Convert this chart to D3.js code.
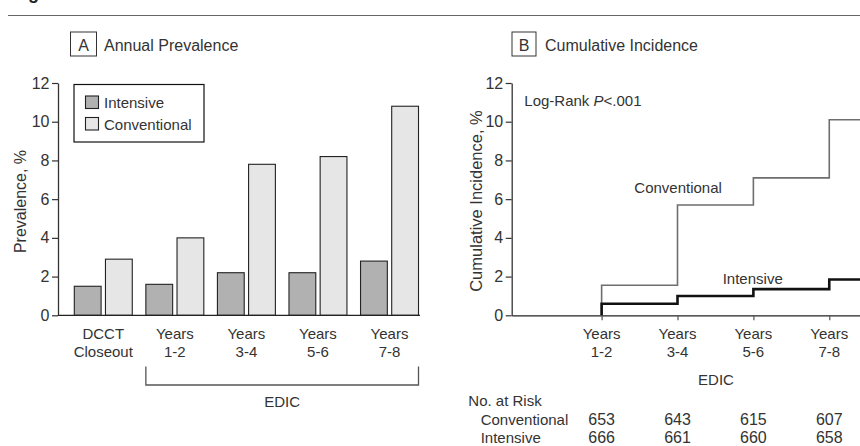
<!DOCTYPE html>
<html>
<head>
<meta charset="utf-8">
<script src="https://cdn.jsdelivr.net/npm/d3@7"></script>
<style>
  html, body { margin: 0; padding: 0; background: #fff; }
  svg { display: block; }
  text { font-family: "Liberation Sans", Arial, sans-serif; fill: #333; }
</style>
</head>
<body>
<svg id="chart" width="860" height="446"></svg>
<script>
// ---- Data ----
const categoriesA = ["DCCT|Closeout", "Years|1-2", "Years|3-4", "Years|5-6", "Years|7-8"];
const seriesNames = ["Intensive", "Conventional"];
const intensivePrev = [1.5, 1.6, 2.2, 2.2, 2.8];
const conventionalPrev = [2.9, 4.0, 7.8, 8.2, 10.8];
const yTicks = [0, 2, 4, 6, 8, 10, 12];

const timesB = [2, 4, 6, 8];
const timeLabelsB = ["Years|1-2", "Years|3-4", "Years|5-6", "Years|7-8"];
const conventionalCum = [1.55, 5.7, 7.1, 10.1];
const intensiveCum = [0.6, 1.0, 1.35, 1.85];
const riskConventional = [653, 643, 615, 607];
const riskIntensive = [666, 661, 660, 658];

const fills = { Intensive: "#b1b1b1", Conventional: "#e6e6e6" };

const svg = d3.select("#chart");

// Figure title (cut off at top, as in the source) and rule
svg.append("text").attr("x", 12).attr("y", -1)
  .style("font-weight", "bold").style("font-size", "18px").style("fill", "#222")
  .text("Figure");
svg.append("line").attr("x1", 8).attr("x2", 860).attr("y1", 15.5).attr("y2", 15.5)
  .attr("stroke", "#666").attr("stroke-width", 1);

// ---- Panel A ----
const yA = d3.scaleLinear().domain([0, 12]).range([315.3, 83]);
const x0 = d3.scaleBand().domain(categoriesA).range([67.5, 425.3])
  .paddingInner(0.19).paddingOuter(0.095);
const x1 = d3.scaleBand().domain(seriesNames).range([0, x0.bandwidth()]).paddingInner(0.14);

const gA = svg.append("g");
gA.append("rect").attr("x", 70.5).attr("y", 32).attr("width", 26).attr("height", 24)
  .attr("fill", "none").attr("stroke", "#333").attr("stroke-width", 1);
gA.append("text").attr("x", 83.5).attr("y", 50.5).attr("text-anchor", "middle")
  .style("font-size", "16px").text("A");
gA.append("text").attr("x", 104).attr("y", 50.5).style("font-size", "16px").text("Annual Prevalence");

const axA = gA.append("g").attr("transform", "translate(58,0)")
  .call(d3.axisLeft(yA).tickValues(yTicks).tickSize(6).tickPadding(2.5).tickSizeOuter(0));
axA.select(".domain").attr("stroke", "#333").attr("stroke-width", 1.3);
axA.selectAll(".tick line").attr("stroke", "#333").attr("stroke-width", 1.2);
axA.selectAll(".tick text").style("font-size", "16px").style("font-family", "Liberation Sans, Arial, sans-serif").attr("fill", "#333");

gA.append("text").attr("transform", "translate(26,201.5) rotate(-90)")
  .attr("text-anchor", "middle").style("font-size", "16px").text("Prevalence, %");

const rows = categoriesA.map((c, i) => ({ cat: c, vals: [
  { key: "Intensive", v: intensivePrev[i] },
  { key: "Conventional", v: conventionalPrev[i] }
]}));
gA.selectAll("g.grp").data(rows).join("g").attr("class", "grp")
  .attr("transform", d => `translate(${x0(d.cat)},0)`)
  .selectAll("rect").data(d => d.vals).join("rect")
  .attr("x", d => x1(d.key)).attr("width", x1.bandwidth())
  .attr("y", d => yA(d.v)).attr("height", d => yA(0) - yA(d.v))
  .attr("fill", d => fills[d.key]).attr("stroke", "#222").attr("stroke-width", 1.1);

gA.append("line").attr("x1", 58).attr("x2", 420).attr("y1", yA(0)).attr("y2", yA(0))
  .attr("stroke", "#222").attr("stroke-width", 1.3);

categoriesA.forEach(c => {
  const cx = x0(c) + x0.bandwidth() / 2;
  c.split("|").forEach((p, j) => {
    gA.append("text").attr("x", cx).attr("y", 338.5 + j * 18.3).attr("text-anchor", "middle")
      .style("font-size", "15px").text(p);
  });
});

const bl = x0(categoriesA[1]) + x1("Intensive");
const br = x0(categoriesA[4]) + x1("Conventional") + x1.bandwidth();
gA.append("path")
  .attr("d", `M${bl},366.5 V385 H${br} V366.5`)
  .attr("fill", "none").attr("stroke", "#555").attr("stroke-width", 1.3);
gA.append("text").attr("x", (bl + br) / 2).attr("y", 406.5).attr("text-anchor", "middle")
  .style("font-size", "15px").text("EDIC");

const lg = gA.append("g");
lg.append("rect").attr("x", 74).attr("y", 84.5).attr("width", 130).attr("height", 57.5)
  .attr("fill", "#fff").attr("stroke", "#111").attr("stroke-width", 1.2);
seriesNames.forEach((s, i) => {
  const yy = 96 + i * 21.5;
  lg.append("rect").attr("x", 85.5).attr("y", yy).attr("width", 13).attr("height", 12.5)
    .attr("fill", fills[s]).attr("stroke", "#222").attr("stroke-width", 1.1);
  lg.append("text").attr("x", 104).attr("y", yy + 12).style("font-size", "15px").text(s);
});

// ---- Panel B ----
const yB = d3.scaleLinear().domain([0, 12]).range([315.3, 83]);
const xB = d3.scaleLinear().domain([-0.37, 8.81]).range([511.7, 860]);

const gB = svg.append("g");
gB.append("rect").attr("x", 512).attr("y", 32).attr("width", 24).attr("height", 24)
  .attr("fill", "none").attr("stroke", "#333").attr("stroke-width", 1);
gB.append("text").attr("x", 524).attr("y", 50.5).attr("text-anchor", "middle")
  .style("font-size", "16px").text("B");
gB.append("text").attr("x", 545).attr("y", 50.5).style("font-size", "16px").text("Cumulative Incidence");

const axBy = gB.append("g").attr("transform", `translate(${xB(-0.37)},0)`)
  .call(d3.axisLeft(yB).tickValues(yTicks).tickSize(6).tickPadding(2.5).tickSizeOuter(0));
axBy.select(".domain").attr("stroke", "#333").attr("stroke-width", 1.3);
axBy.selectAll(".tick line").attr("stroke", "#333").attr("stroke-width", 1.2);
axBy.selectAll(".tick text").style("font-size", "16px").style("font-family", "Liberation Sans, Arial, sans-serif").attr("fill", "#333");

const axBx = gB.append("g").attr("transform", `translate(0,${yB(0)})`)
  .call(d3.axisBottom(xB).tickValues(timesB).tickSize(5).tickSizeOuter(0).tickFormat(""));
axBx.select(".domain").attr("stroke", "#222").attr("stroke-width", 1.3);
axBx.selectAll(".tick line").attr("stroke", "#555").attr("stroke-width", 1.2);

gB.append("text").attr("transform", "translate(481.5,201) rotate(-90)")
  .attr("text-anchor", "middle").style("font-size", "16.5px").text("Cumulative Incidence, %");

timesB.forEach((t, i) => {
  timeLabelsB[i].split("|").forEach((p, j) => {
    gB.append("text").attr("x", xB(t)).attr("y", 338.5 + j * 18.3).attr("text-anchor", "middle")
      .style("font-size", "15px").text(p);
  });
});
gB.append("text").attr("x", 716).attr("y", 385).attr("text-anchor", "middle")
  .style("font-size", "15px").text("EDIC");

function stepPts(vals) {
  const pts = [[timesB[0], 0]];
  timesB.forEach((t, i) => pts.push([t, vals[i]]));
  pts.push([xB.domain()[1], vals[vals.length - 1]]);
  return pts;
}
const line = d3.line().x(d => xB(d[0])).y(d => yB(d[1])).curve(d3.curveStepAfter);
gB.append("path").attr("d", line(stepPts(conventionalCum)))
  .attr("fill", "none").attr("stroke", "#6e6e6e").attr("stroke-width", 1.6);
gB.append("path").attr("d", line(stepPts(intensiveCum)))
  .attr("fill", "none").attr("stroke", "#111").attr("stroke-width", 2.6);

gB.append("text").attr("x", 634.3).attr("y", 192.7).style("font-size", "15px").text("Conventional");
gB.append("text").attr("x", 722.7).attr("y", 284.3).style("font-size", "15px").text("Intensive");

const lr = gB.append("text").attr("x", 524.3).attr("y", 105.7).style("font-size", "15px");
lr.append("tspan").text("Log-Rank ");
lr.append("tspan").style("font-style", "italic").text("P");
lr.append("tspan").text("<.001");

gB.append("text").attr("x", 468.3).attr("y", 406).style("font-size", "15px").text("No. at Risk");
gB.append("text").attr("x", 480.7).attr("y", 425).style("font-size", "15px").text("Conventional");
gB.append("text").attr("x", 480.7).attr("y", 443.3).style("font-size", "15px").text("Intensive");
timesB.forEach((t, i) => {
  gB.append("text").attr("x", xB(t)).attr("y", 425).attr("text-anchor", "middle")
    .style("font-size", "16px").text(riskConventional[i]);
  gB.append("text").attr("x", xB(t)).attr("y", 443.3).attr("text-anchor", "middle")
    .style("font-size", "16px").text(riskIntensive[i]);
});
</script>
</body>
</html>
